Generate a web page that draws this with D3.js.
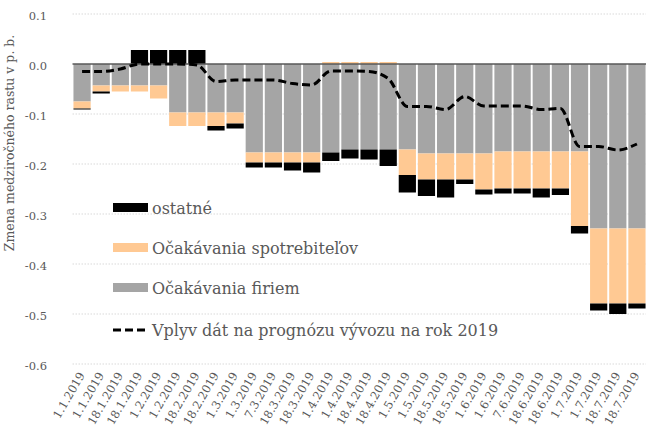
<!DOCTYPE html>
<html>
<head>
<meta charset="utf-8">
<script src="https://cdn.jsdelivr.net/npm/d3@7"></script>
<style>
  body { margin: 0; background: #fff; }
  svg text { font-family: "DejaVu Serif", serif; fill: #595959; }
</style>
</head>
<body>
<svg id="chart" width="646" height="432"></svg>
<script>
// dates of the forecast updates (x axis)
var labels = ["1.1.2019","1.1.2019","18.1.2019","18.1.2019","1.2.2019","1.2.2019","18.2.2019","18.2.2019",
  "1.3.2019","1.3.2019","7.3.2019","18.3.2019","18.3.2019","1.4.2019","1.4.2019","18.4.2019","18.4.2019",
  "1.5.2019","1.5.2019","18.5.2019","18.5.2019","1.6.2019","1.6.2019","7.6.2019","18.6.2019","18.6.2019",
  "1.7.2019","1.7.2019","18.7.2019","18.7.2019"];

var firms = [-0.075,-0.043,-0.043,-0.043,-0.043,-0.097,-0.097,-0.097,-0.097,-0.177,-0.177,-0.177,-0.177,-0.177,-0.171,
  -0.171,-0.171,-0.171,-0.179,-0.179,-0.179,-0.179,-0.175,-0.175,-0.175,-0.175,-0.175,-0.329,-0.329,-0.329];
var consumers = [-0.014,-0.012,-0.012,-0.012,-0.026,-0.027,-0.027,-0.027,-0.022,-0.020,-0.020,-0.020,-0.020,0.004,0.004,
  0.004,0.004,-0.051,-0.052,-0.052,-0.052,-0.072,-0.074,-0.074,-0.074,-0.074,-0.149,-0.150,-0.150,-0.150];
var others = [-0.002,-0.004,0,0.028,0.028,0.028,0.028,-0.009,-0.010,-0.010,-0.010,-0.016,-0.020,-0.017,-0.018,
  -0.020,-0.033,-0.035,-0.033,-0.036,-0.009,-0.010,-0.010,-0.010,-0.018,-0.013,-0.015,-0.014,-0.021,-0.010];
var impact = [-0.015,-0.015,-0.010,0,0,0,-0.002,-0.035,-0.032,-0.032,-0.032,-0.039,-0.042,-0.014,-0.014,
  -0.015,-0.029,-0.085,-0.085,-0.091,-0.065,-0.084,-0.084,-0.084,-0.091,-0.089,-0.165,-0.165,-0.172,-0.160];

var yTicks = [0.1, 0, -0.1, -0.2, -0.3, -0.4, -0.5, -0.6];

var keys = ["firms", "consumers", "others"];
var colors = { firms: "#a5a5a5", consumers: "#ffc993", others: "#000000" };

var rows = labels.map(function(l, i) {
  return { i: i, firms: firms[i], consumers: consumers[i], others: others[i] };
});

var svg = d3.select("#chart");
var plotLeft = 72.5, plotRight = 646.5, plotTop = 14, plotBottom = 364;

var x = d3.scaleBand()
  .domain(d3.range(labels.length))
  .range([plotLeft, plotRight])
  .paddingInner(0.1)
  .paddingOuter(0.05);

var y = d3.scaleLinear()
  .domain([-0.6, 0.1])
  .range([plotBottom, plotTop]);

// gridlines
svg.append("g")
  .selectAll("line")
  .data(yTicks.filter(function(d) { return d !== 0; }))
  .join("line")
  .attr("x1", plotLeft).attr("x2", plotRight)
  .attr("y1", function(d) { return y(d); })
  .attr("y2", function(d) { return y(d); })
  .attr("stroke", "#d9d9d9")
  .attr("stroke-dasharray", "1.5,1.5");

// y axis labels (plain hyphen like in the source)
var fmt = d3.format(".1f");
var yAxis = d3.axisLeft(y)
  .tickValues(yTicks)
  .tickSize(0)
  .tickPadding(0)
  .tickFormat(function(d) { return fmt(d).replace("\u2212", "-"); });

svg.append("g")
  .attr("transform", "translate(47,2)")
  .call(yAxis)
  .call(function(g) { g.select(".domain").remove(); })
  .selectAll("text")
  .style("font-size", "11.5px")
  .style("font-family", "DejaVu Serif, serif")
  .attr("fill", "#595959");

svg.append("text")
  .attr("transform", "translate(14,143) rotate(-90)")
  .attr("text-anchor", "middle")
  .style("font-size", "12.5px")
  .text("Zmena medziročného rastu v p. b.");

// stacked bars
var series = d3.stack()
  .keys(keys)
  .offset(d3.stackOffsetDiverging)(rows);

svg.append("g")
  .selectAll("g")
  .data(series)
  .join("g")
  .attr("fill", function(s) { return colors[s.key]; })
  .selectAll("rect")
  .data(function(s) { return s; })
  .join("rect")
  .attr("x", function(d) { return x(d.data.i); })
  .attr("width", x.bandwidth())
  .attr("y", function(d) { return y(Math.max(d[0], d[1])); })
  .attr("height", function(d) { return Math.abs(y(d[0]) - y(d[1])); });

// zero line
svg.append("line")
  .attr("x1", plotLeft).attr("x2", plotRight)
  .attr("y1", y(0)).attr("y2", y(0))
  .attr("stroke", "#595959")
  .attr("stroke-width", 1.5);

// impact line
var line = d3.line()
  .x(function(d, i) { return x(i) + x.bandwidth() / 2; })
  .y(function(d) { return y(d); })
  .curve(d3.curveMonotoneX);

svg.append("path")
  .datum(impact)
  .attr("d", line)
  .attr("fill", "none")
  .attr("stroke", "#000")
  .attr("stroke-width", 3)
  .attr("stroke-dasharray", "8,4");

// x labels
var xAxis = d3.axisBottom(x)
  .tickSize(0)
  .tickFormat(function(i) { return labels[i]; });

svg.append("g")
  .attr("transform", "translate(-4," + (plotBottom + 7) + ")")
  .call(xAxis)
  .call(function(g) { g.select(".domain").remove(); })
  .selectAll("text")
  .style("font-size", "11.5px")
  .style("font-family", "DejaVu Serif, serif")
  .attr("fill", "#595959")
  .attr("text-anchor", "end")
  .attr("dx", "0")
  .attr("dy", "0.45em")
  .attr("transform", "rotate(-60)");

// legend
var legendItems = [
  { label: "ostatné", color: colors.others, y: 208 },
  { label: "Očakávania spotrebiteľov", color: colors.consumers, y: 248 },
  { label: "Očakávania firiem", color: colors.firms, y: 288 },
  { label: "Vplyv dát na prognózu vývozu na rok 2019", dash: true, y: 330 }
];

var lg = svg.append("g").selectAll("g")
  .data(legendItems)
  .join("g")
  .attr("transform", function(d) { return "translate(113," + d.y + ")"; });

lg.filter(function(d) { return !d.dash; })
  .append("rect")
  .attr("x", 0).attr("y", -5)
  .attr("width", 35).attr("height", 9)
  .attr("fill", function(d) { return d.color; });

lg.filter(function(d) { return d.dash; })
  .append("line")
  .attr("x1", 0).attr("x2", 35)
  .attr("stroke", "#000")
  .attr("stroke-width", 3)
  .attr("stroke-dasharray", "8,4");

lg.append("text")
  .attr("x", 39)
  .attr("y", 6)
  .style("font-size", "16px")
  .text(function(d) { return d.label; });
</script>
</body>
</html>
